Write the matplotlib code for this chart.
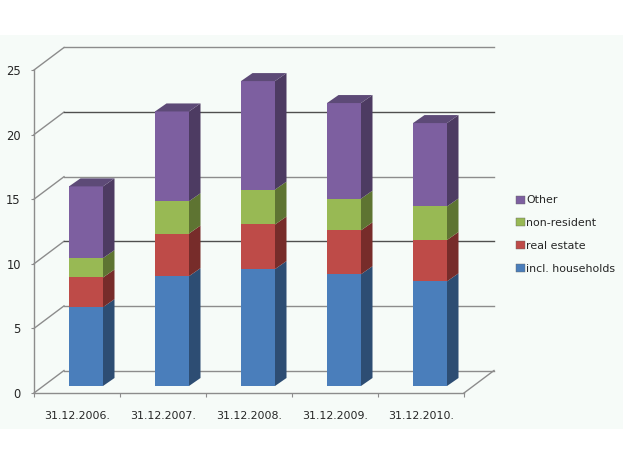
#!/usr/bin/env python
import numpy as np
import matplotlib
matplotlib.use("Agg")
import matplotlib.pyplot as plt
from matplotlib.patches import Patch, Rectangle

categories = ["31.12.2006.", "31.12.2007.", "31.12.2008.", "31.12.2009.", "31.12.2010."]
households = [6.1, 8.5, 9.05, 8.65, 8.1]
real_estate = [2.3, 3.3, 3.45, 3.4, 3.2]
non_resident = [1.5, 2.5, 2.7, 2.45, 2.6]
other = [5.55, 6.95, 8.4, 7.4, 6.45]
y_ticks = [0, 5, 10, 15, 20, 25]
grid_colors = ["#8c8c8c", "#8c8c8c", "#4f4f4f", "#8c8c8c", "#4f4f4f", "#8c8c8c"]

W, H = 623, 466
fig = plt.figure(figsize=(W / 100, H / 100), dpi=100, facecolor="white")
fig.patches.append(Rectangle((0, 37 / H), 1, 394 / H, transform=fig.transFigure,
                             facecolor="#f6fbf8", edgecolor="none", zorder=-5))
ax = fig.add_axes([34 / W, (H - 393) / H, 430 / W, 323 / H])
ax.patch.set_alpha(0)
ax.set_xlim(-0.5, 4.5)
ax.set_ylim(0, 25)

x_px = 86.0
y_px = 323 / 25.0
# depth of the chart floor and of the bars, in data units
wall_dx, wall_dy = 30 / x_px, 22.5 / y_px
bar_w = 34 / x_px
bar_dx, bar_dy = 11.5 / x_px, 8 / y_px
off_x, off_y = 9 / x_px, 7 / y_px

# back wall lines
for v, c in zip(y_ticks, grid_colors):
    ax.plot([-0.5, -0.5 + wall_dx], [v, v + wall_dy], color="#8c8c8c", lw=1, clip_on=False, zorder=1)
    ax.plot([-0.5 + wall_dx, 4.5 + wall_dx], [v + wall_dy, v + wall_dy],
            color=c, lw=1, clip_on=False, zorder=1)
ax.plot([4.5, 4.5 + wall_dx], [0, wall_dy], color="#8c8c8c", lw=1, clip_on=False, zorder=1)

series = [
    ("incl. households", households, "#4a7ebb", "#2d4d73", "#3a6291"),
    ("real estate", real_estate, "#be4b48", "#772c2a", "#943b39"),
    ("non-resident", non_resident, "#98b954", "#5e7432", "#76903f"),
    ("Other", other, "#7d5fa0", "#4d3b62", "#5d4a77"),
]

x = np.arange(len(categories))
bottom = np.zeros(len(categories))
for name, vals, front, side, top in series:
    vals = np.array(vals)
    ax.bar(x + off_x, vals, width=bar_w, bottom=bottom + off_y, color=front,
           zorder=3, clip_on=False, linewidth=0)
    for i in range(len(x)):
        x1 = x[i] + off_x + bar_w / 2
        y0 = bottom[i] + off_y
        y1 = y0 + vals[i]
        ax.fill([x1, x1 + bar_dx, x1 + bar_dx, x1], [y0, y0 + bar_dy, y1 + bar_dy, y1],
                color=side, lw=0, zorder=3, clip_on=False)
    bottom = bottom + vals

# caps on the top segment
for i in range(len(x)):
    x0 = x[i] + off_x - bar_w / 2
    y1 = bottom[i] + off_y
    ax.fill([x0, x0 + bar_dx, x0 + bar_w + bar_dx, x0 + bar_w],
            [y1, y1 + bar_dy, y1 + bar_dy, y1], color=series[-1][4], lw=0, zorder=3, clip_on=False)

for s in ["top", "right"]:
    ax.spines[s].set_visible(False)
for s in ["left", "bottom"]:
    ax.spines[s].set_color("#8c8c8c")
    ax.spines[s].set_linewidth(1)

text_color = "#262626"
ax.set_yticks(y_ticks)
ax.tick_params(axis="y", length=2.5, color="#8c8c8c", pad=7, labelsize=8.3, labelcolor=text_color)
ax.set_xticks(np.arange(-0.5, 5, 1))
ax.set_xticklabels([])
ax.tick_params(axis="x", which="major", length=3, color="#8c8c8c")
ax.set_xticks(x, minor=True)
ax.set_xticklabels(categories, minor=True)
ax.tick_params(axis="x", which="minor", length=0, pad=12.7, labelsize=7.9, labelcolor=text_color)

handles = [Patch(facecolor=s[2], edgecolor="#666666", linewidth=0.3, label=s[0]) for s in series[::-1]]
fig.legend(handles=handles, loc="upper left", bbox_to_anchor=(512 / W, (H - 191) / H),
           frameon=False, fontsize=7.9, labelspacing=1.17, handlelength=0.8, handleheight=0.75,
           handletextpad=0.12, labelcolor=text_color, borderpad=0.4, borderaxespad=0)

fig.savefig("out.png", dpi=100, facecolor="white")
